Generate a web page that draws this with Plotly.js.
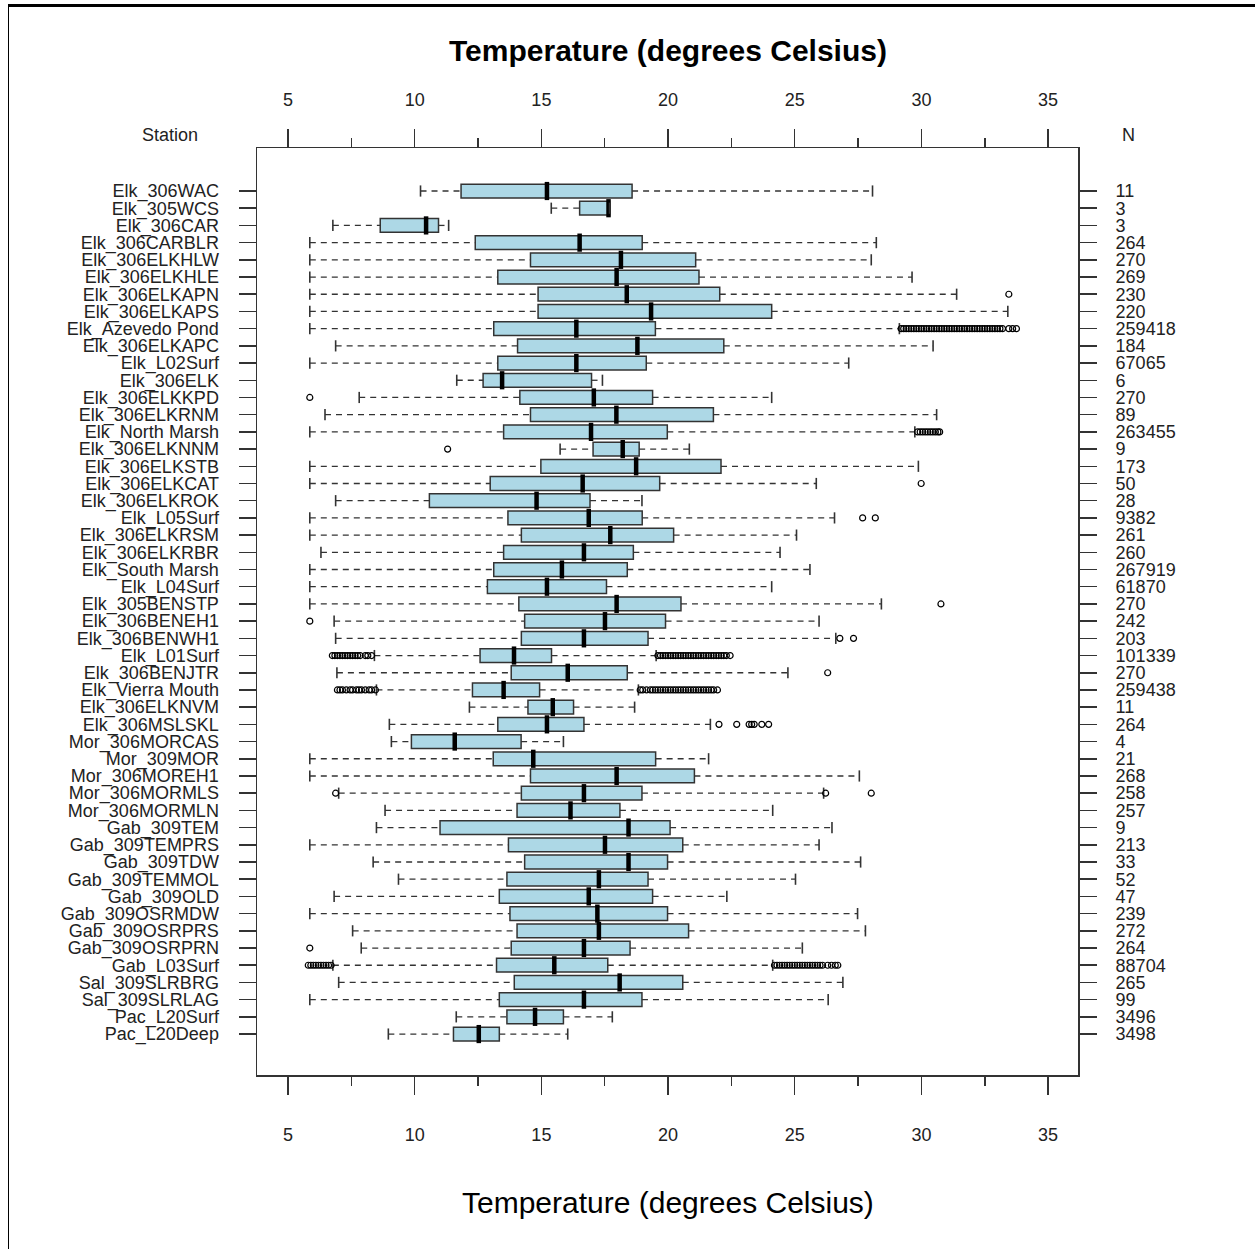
<!DOCTYPE html>
<html><head><meta charset="utf-8">
<script src="https://cdn.plot.ly/plotly-3.0.1.min.js"></script>
<style>
body{margin:0;background:#fff}
#wrap{position:relative;width:1255px;height:1249px;overflow:hidden}
#plot{position:absolute;left:0;top:0;width:1255px;height:1249px}
#frame{position:absolute;left:8px;top:4px;right:0;bottom:0;border-left:1px solid #000;border-top:3px solid #000;pointer-events:none}
</style>
</head><body><div id="wrap"><div id="plot"></div><div id="frame"></div></div>
<script>
const stations = ["Elk_306WAC","Elk_305WCS","Elk_306CAR","Elk_306CARBLR","Elk_306ELKHLW","Elk_306ELKHLE","Elk_306ELKAPN","Elk_306ELKAPS","Elk_Azevedo Pond","Elk_306ELKAPC","Elk_L02Surf","Elk_306ELK","Elk_306ELKKPD","Elk_306ELKRNM","Elk_North Marsh","Elk_306ELKNNM","Elk_306ELKSTB","Elk_306ELKCAT","Elk_306ELKROK","Elk_L05Surf","Elk_306ELKRSM","Elk_306ELKRBR","Elk_South Marsh","Elk_L04Surf","Elk_305BENSTP","Elk_306BENEH1","Elk_306BENWH1","Elk_L01Surf","Elk_306BENJTR","Elk_Vierra Mouth","Elk_306ELKNVM","Elk_306MSLSKL","Mor_306MORCAS","Mor_309MOR","Mor_306MOREH1","Mor_306MORMLS","Mor_306MORMLN","Gab_309TEM","Gab_309TEMPRS","Gab_309TDW","Gab_309TEMMOL","Gab_309OLD","Gab_309OSRMDW","Gab_309OSRPRS","Gab_309OSRPRN","Gab_L03Surf","Sal_309SLRBRG","Sal_309SLRLAG","Pac_L20Surf","Pac_L20Deep"];
const nValues = ["11","3","3","264","270","269","230","220","259418","184","67065","6","270","89","263455","9","173","50","28","9382","261","260","267919","61870","270","242","203","101339","270","259438","11","264","4","21","268","258","257","9","213","33","52","47","239","272","264","88704","265","99","3496","3498"];
const lowerWhisker = [10.23,15.39,6.77,5.86,5.86,5.86,5.86,5.86,5.86,6.88,5.86,11.66,7.81,6.46,5.86,15.74,5.86,5.86,6.88,5.86,5.86,6.30,5.86,5.86,5.86,6.82,6.88,8.41,6.93,8.49,12.16,9.00,9.08,5.86,5.86,7.00,8.83,8.49,5.86,8.36,9.36,6.82,5.86,7.55,7.89,6.77,7.00,5.86,11.64,8.96];
const q1 = [11.83,16.51,8.64,12.39,14.57,13.28,14.87,14.87,13.12,14.06,13.28,12.70,14.15,14.57,13.51,17.04,14.98,12.98,10.58,13.68,14.21,13.51,13.12,12.87,14.11,14.34,14.21,12.58,13.81,12.28,14.47,13.28,9.87,13.10,14.57,14.21,14.04,11.00,13.70,14.34,13.64,13.34,13.76,14.04,13.81,13.23,13.93,13.34,13.64,11.53];
const median = [15.22,17.65,10.45,16.51,18.14,17.97,18.37,19.33,16.38,18.79,16.38,13.45,17.07,17.96,16.96,18.21,18.74,16.63,14.81,16.87,17.72,16.68,15.81,15.22,17.97,17.51,16.68,13.92,16.04,13.51,15.45,15.22,11.58,14.68,17.97,16.68,16.15,18.44,17.51,18.44,17.27,16.87,17.21,17.27,16.68,15.51,18.09,16.68,14.75,12.53];
const q3 = [18.58,17.69,10.94,18.98,21.09,21.22,22.04,24.09,19.50,22.20,19.14,16.98,19.39,21.79,19.97,18.86,22.09,19.67,16.92,18.98,20.22,18.63,18.39,17.57,20.51,19.90,19.21,15.40,18.39,14.93,16.27,16.68,14.20,19.51,21.04,18.97,18.10,20.08,20.58,19.98,19.21,19.39,19.98,20.81,18.50,17.62,20.58,18.97,15.87,13.34];
const upperWhisker = [28.07,17.69,11.34,28.22,28.02,29.63,31.39,33.41,29.13,30.46,27.13,17.41,24.09,30.60,29.74,20.84,29.88,25.85,18.97,26.57,25.07,24.42,25.60,24.09,28.42,25.96,26.62,19.53,24.73,18.83,18.68,21.67,15.87,21.60,27.55,26.14,24.13,26.47,25.96,27.60,25.03,22.32,27.48,27.79,25.30,24.13,26.90,26.32,17.80,16.04];
const outliers = [
 [],[],[],[],[],[],
 [33.45],
 [],
 [29.2,29.3,29.4,29.5,29.6,29.7,29.8,29.9,30.0,30.1,30.2,30.3,30.4,30.5,30.6,30.7,30.8,30.9,31.0,31.1,31.2,31.3,31.4,31.5,31.6,31.7,31.8,31.9,32.0,32.1,32.2,32.3,32.4,32.5,32.6,32.7,32.8,32.9,33.0,33.1,33.2,33.45,33.6,33.75],
 [],[],[],
 [5.86],
 [],
 [29.85,29.95,30.05,30.15,30.25,30.35,30.45,30.55,30.65,30.72],
 [11.30],
 [],
 [29.99],
 [],
 [27.68,28.18],
 [],[],[],[],
 [30.77],
 [5.86],
 [26.78,27.32],
 [6.75,6.85,6.95,7.05,7.15,7.25,7.35,7.45,7.55,7.65,7.75,7.85,8.05,8.15,8.3,19.6,19.7,19.8,19.9,20.0,20.1,20.2,20.3,20.4,20.5,20.6,20.7,20.8,20.9,21.0,21.1,21.2,21.3,21.4,21.5,21.6,21.7,21.8,21.9,22.0,22.1,22.2,22.3,22.45],
 [26.30],
 [6.95,7.05,7.15,7.3,7.45,7.55,7.7,7.8,7.9,8.05,8.2,8.3,8.45,18.9,19.0,19.15,19.3,19.4,19.5,19.6,19.7,19.8,19.9,20.0,20.1,20.2,20.3,20.4,20.5,20.6,20.7,20.8,20.9,21.0,21.1,21.2,21.3,21.4,21.5,21.6,21.7,21.8,21.95],
 [],
 [22.01,22.71,23.2,23.3,23.4,23.7,23.97],
 [],[],[],
 [6.88,26.22,28.02],
 [],[],[],[],[],[],[],[],
 [5.86],
 [5.8,5.9,6.0,6.1,6.2,6.3,6.4,6.5,6.6,6.7,24.2,24.3,24.4,24.5,24.6,24.7,24.8,24.9,25.0,25.1,25.2,25.3,25.4,25.5,25.6,25.7,25.8,25.9,26.0,26.1,26.3,26.45,26.6,26.7],
 [],[],[],[]
];
const majorTicks = [5,10,15,20,25,30,35];
const minorTicks = [7.5,12.5,17.5,22.5,27.5,32.5];

const FONT = "Liberation Sans, Arial, sans-serif";
const INK = "#333";

// row positions (top to bottom)
const rowPos = stations.map((s,i)=>i);

const wx = [], wy = [];
rowPos.forEach((p,i)=>{
  wx.push(lowerWhisker[i], q1[i], null, q3[i], upperWhisker[i], null);
  wy.push(p, p, null, p, p, null);
});
const capX = [], capY = [];
rowPos.forEach((p,i)=>{ capX.push(lowerWhisker[i], upperWhisker[i]); capY.push(p, p); });
const ox = [], oy = [];
outliers.forEach((arr,i)=>arr.forEach(v=>{ ox.push(v); oy.push(rowPos[i]); }));

const xr = [3.776, 36.18];
const yr = [51.38, -2.5];

const traces = [
  {type:'scatter', mode:'lines', x:wx, y:wy, line:{color:INK, width:1.3, dash:'6px,5px'}, hoverinfo:'skip', showlegend:false},
  {type:'box', orientation:'h', y:rowPos, q1:q1, median:median, q3:q3, lowerfence:q1, upperfence:q3,
   fillcolor:'#ADD8E6', line:{color:INK, width:1.5}, width:0.8, whiskerwidth:0, boxpoints:false, hoverinfo:'skip', showlegend:false},
  {type:'scatter', mode:'markers', x:median, y:rowPos, marker:{symbol:'line-ns', size:13, line:{width:4.5, color:'#000'}}, hoverinfo:'skip', showlegend:false},
  {type:'scatter', mode:'markers', x:capX, y:capY, marker:{symbol:'line-ns', size:8, line:{width:1.6, color:INK}}, hoverinfo:'skip', showlegend:false},
  {type:'scatter', mode:'markers', x:ox, y:oy, marker:{symbol:'circle-open', size:6, line:{width:1.2, color:'#000'}, color:'#000'}, hoverinfo:'skip', showlegend:false},
  {type:'scatter', x:[], y:[], xaxis:'x2', yaxis:'y', showlegend:false},
  {type:'scatter', x:[], y:[], xaxis:'x', yaxis:'y2', showlegend:false}
];

const xCommon = {
  range:xr, tickmode:'array', tickvals:majorTicks, ticktext:majorTicks.map(String),
  ticks:'outside', ticklen:18, tickwidth:1.5, tickcolor:INK,
  showgrid:false, zeroline:false,
  tickfont:{size:18, family:FONT, color:'#222'},
  minor:{tickmode:'array', tickvals:minorTicks, ticks:'outside', ticklen:9, tickwidth:1.5, tickcolor:INK, showgrid:false}
};

const layout = {
  width:1255, height:1249,
  margin:{l:257, r:177, t:148, b:174},
  paper_bgcolor:'#fff', plot_bgcolor:'#fff',
  showlegend:false, hovermode:false, boxmode:'overlay',
  font:{family:FONT, color:'#222'},
  xaxis: Object.assign({}, xCommon, {showline:true, mirror:true, linecolor:INK, linewidth:1.5, ticklabelstandoff:25}),
  xaxis2: Object.assign({}, xCommon, {overlaying:'x', side:'top', anchor:'y', showline:false, ticklabelstandoff:16}),
  yaxis: {range:yr, tickmode:'array', tickvals:rowPos, ticktext:stations,
    ticks:'outside', ticklen:17, tickwidth:1.5, tickcolor:INK, showgrid:false, zeroline:false,
    showline:true, mirror:true, linecolor:INK, linewidth:1.5,
    tickfont:{size:18, family:FONT, color:'#222'}, ticklabelstandoff:16},
  yaxis2: {overlaying:'y', side:'right', anchor:'x', range:yr, tickmode:'array',
    tickvals:rowPos, ticktext:nValues,
    ticks:'outside', ticklen:18, tickwidth:1.5, tickcolor:INK, showgrid:false, zeroline:false, showline:false,
    tickfont:{size:18, family:FONT, color:'#222'}, ticklabelstandoff:15},
  annotations:[
    {text:'<b>Temperature (degrees Celsius)</b>', xref:'paper', yref:'paper', x:0.5006, y:(1075-50)/927, xanchor:'center', yanchor:'middle', showarrow:false, font:{size:30, family:FONT, color:'#000'}},
    {text:'Temperature (degrees Celsius)', xref:'paper', yref:'paper', x:0.5, y:(1075-1202)/927, xanchor:'center', yanchor:'middle', showarrow:false, font:{size:30, family:FONT, color:'#000'}},
    {text:'Station', xref:'paper', yref:'paper', x:(170-257)/821, y:(1075-135)/927, xanchor:'center', yanchor:'middle', showarrow:false, font:{size:18, family:FONT, color:'#222'}},
    {text:'N', xref:'paper', yref:'paper', x:(1128-257)/821, y:(1075-135)/927, xanchor:'center', yanchor:'middle', showarrow:false, font:{size:18, family:FONT, color:'#222'}}
  ]
};

Plotly.newPlot('plot', traces, layout, {displayModeBar:false, staticPlot:true});
</script></body></html>
